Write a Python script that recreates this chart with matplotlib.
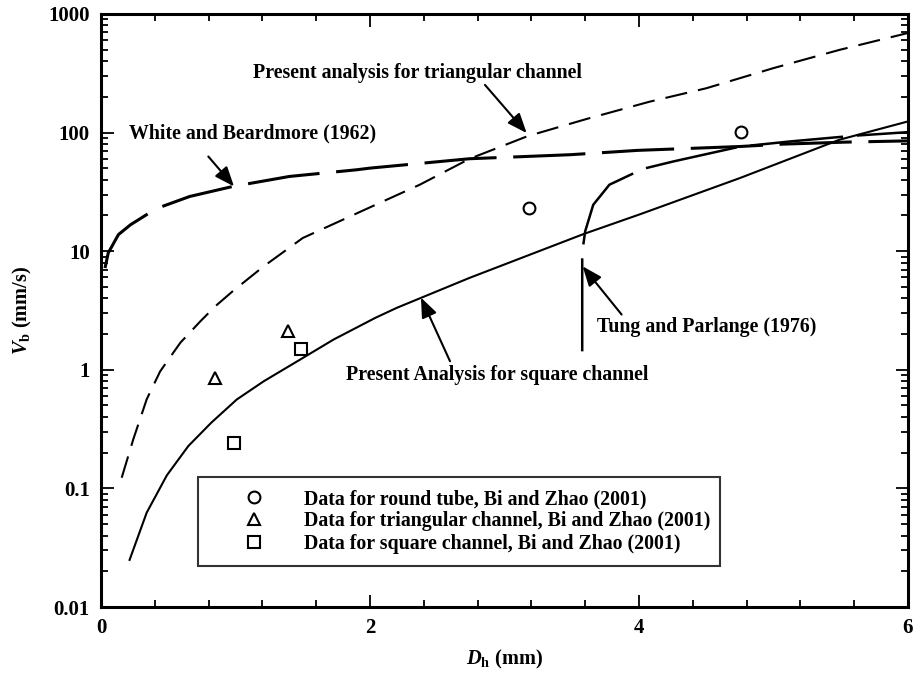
import matplotlib
matplotlib.use("Agg")
import matplotlib.pyplot as plt
from matplotlib.ticker import MultipleLocator, LogLocator, FixedLocator, FixedFormatter, NullFormatter

plt.rcParams['font.family'] = 'serif'
plt.rcParams['font.serif'] = ['Liberation Serif', 'DejaVu Serif']
plt.rcParams['font.weight'] = 'bold'
plt.rcParams['mathtext.fontset'] = 'custom'
plt.rcParams['mathtext.it'] = 'Liberation Serif:italic:bold'
plt.rcParams['mathtext.rm'] = 'Liberation Serif:bold'
plt.rcParams['mathtext.bf'] = 'Liberation Serif:bold'
plt.rcParams['lines.scale_dashes'] = False

# present analysis, square channel (solid)
square_x = [0.21, 0.34, 0.49, 0.65, 0.82, 1.01, 1.21, 1.46, 1.73, 2.04, 2.20, 2.74, 3.59, 4.01, 4.75, 5.49, 6.0]
square_y = [0.0245, 0.0625, 0.129, 0.228, 0.358, 0.562, 0.80, 1.18, 1.80, 2.74, 3.33, 5.95, 13.96, 20.5, 41.3, 86.9, 124]

# present analysis, triangular channel (short dash)
tri_x = [0.154, 0.24, 0.34, 0.44, 0.59, 0.74, 0.85, 0.98, 1.21, 1.50, 2.0, 2.37, 2.74, 3.17, 3.61, 4.08, 4.5, 5.0, 5.49, 6.0]
tri_y = [0.123, 0.259, 0.564, 0.97, 1.69, 2.57, 3.43, 4.6, 7.45, 12.9, 23.4, 36.3, 60, 93, 130, 182, 236, 349, 497, 690]

# White and Beardmore (1962)
wb_x = [0.03, 0.054, 0.13, 0.22, 0.41, 0.66, 0.98, 1.40, 1.90, 2.0, 2.74, 3.49, 3.99, 4.75, 5.07, 5.54, 6.0]
wb_y = [7.2, 9.66, 13.8, 16.7, 22.8, 28.9, 35.1, 42.6, 48.5, 50.1, 60.1, 65, 70.7, 76.2, 79.8, 83, 85]

# Tung and Parlange (1976)
tp_x = [3.578, 3.578, 3.586, 3.60, 3.66, 3.78, 4.03, 4.255, 4.75, 5.12, 5.59, 6.0]
tp_y = [1.43, 8.65, 11.3, 14.7, 24.6, 36.3, 49.4, 57, 76, 84, 93.8, 100.7]

# Bi and Zhao (2001) data
round_x = [3.185, 4.758]
round_y = [23.1, 100.7]
tri_data_x = [0.848, 1.393]
tri_data_y = [0.857, 2.14]
sq_data_x = [0.989, 1.487]
sq_data_y = [0.24, 1.50]

legend_labels = ["Data for round tube, Bi and Zhao (2001)",
                 "Data for triangular channel, Bi and Zhao (2001)",
                 "Data for square channel, Bi and Zhao (2001)"]

y_ticks = [0.01, 0.1, 1, 10, 100, 1000]
y_ticklabels = ["0.01", "0.1", "1", "10", "100", "1000"]

note_texts = ["Present analysis for triangular channel", "White and Beardmore (1962)",
              "Tung and Parlange (1976)", "Present Analysis for square channel"]
note_pos = [(2.353, 318), (1.126, 99), (4.503, 2.30), (2.944, 0.912)]
arrow_tail = [(2.855, 252), (0.798, 62.8), (3.871, 2.92), (2.595, 1.18)]
arrow_tip = [(3.165, 98.9), (0.989, 35.1), (3.581, 7.45), (2.379, 4.06)]

FS = 14.3

fig = plt.figure(figsize=(9.13, 6.87), dpi=100)
ax = fig.add_axes([0.1106, 0.1164, 0.8839, 0.8634])

ax.plot(square_x, square_y, color='black', lw=1.5, solid_capstyle='butt')
ax.plot(tri_x, tri_y, color='black', lw=1.5, ls=(0, (16, 8)))
ax.plot(wb_x, wb_y, color='black', lw=2.2, ls=(0, (52, 12)))
ax.plot(tp_x, tp_y, color='black', lw=1.8, ls=(0, (67, 10)))

mk = dict(ls='none', mfc='white', mec='black', mew=1.5, ms=8.5)
ax.plot(round_x, round_y, marker='o', label=legend_labels[0], **mk)
ax.plot(tri_data_x, tri_data_y, marker='^', label=legend_labels[1], **mk)
ax.plot(sq_data_x, sq_data_y, marker='s', label=legend_labels[2], **mk)

for txt, pos, tail, tip in zip(note_texts, note_pos, arrow_tail, arrow_tip):
    ax.text(pos[0], pos[1], txt, ha='center', va='center', fontsize=FS, fontweight='bold')
    ax.annotate('', xy=tip, xytext=tail,
                arrowprops=dict(arrowstyle='-|>,head_length=0.5,head_width=0.2', color='black', lw=1.5,
                                mutation_scale=24, shrinkA=0, shrinkB=0))

ax.set_xlim(0, 6)
ax.set_yscale('log')
ax.set_ylim(0.01, 1000)

ax.xaxis.set_major_locator(MultipleLocator(2))
ax.xaxis.set_minor_locator(MultipleLocator(0.4))
ax.yaxis.set_major_locator(FixedLocator(y_ticks))
ax.yaxis.set_major_formatter(FixedFormatter(y_ticklabels))
ax.yaxis.set_minor_locator(LogLocator(base=10, subs=range(2, 10)))
ax.yaxis.set_minor_formatter(NullFormatter())

ax.tick_params(which='both', direction='in', top=True, right=True, width=1.3)
ax.tick_params(which='major', length=9, labelsize=15, pad=8)
ax.tick_params(which='minor', length=5)
for lab in ax.get_xticklabels() + ax.get_yticklabels():
    lab.set_fontweight('bold')
for sp in ax.spines.values():
    sp.set_linewidth(2.2)

ax.set_xlabel(r'$D_{\mathrm{h}}$ (mm)', fontsize=14.7, fontweight='bold', labelpad=7)
ax.set_ylabel(r'$V_{\mathrm{b}}$ (mm/s)', fontsize=14.7, fontweight='bold', labelpad=10)

leg = ax.legend(loc='lower left', bbox_to_anchor=(0.120, 0.069, 0.647, 0.150), mode='expand',
                fontsize=FS, frameon=True, fancybox=False, borderpad=0.63, handlelength=4.37,
                handletextpad=0.34, labelspacing=0.115, borderaxespad=0, numpoints=1)
leg.get_frame().set_edgecolor('black')
leg.get_frame().set_linewidth(1.5)
for t in leg.get_texts():
    t.set_fontweight('bold')

fig.savefig('out.png', dpi=100)
